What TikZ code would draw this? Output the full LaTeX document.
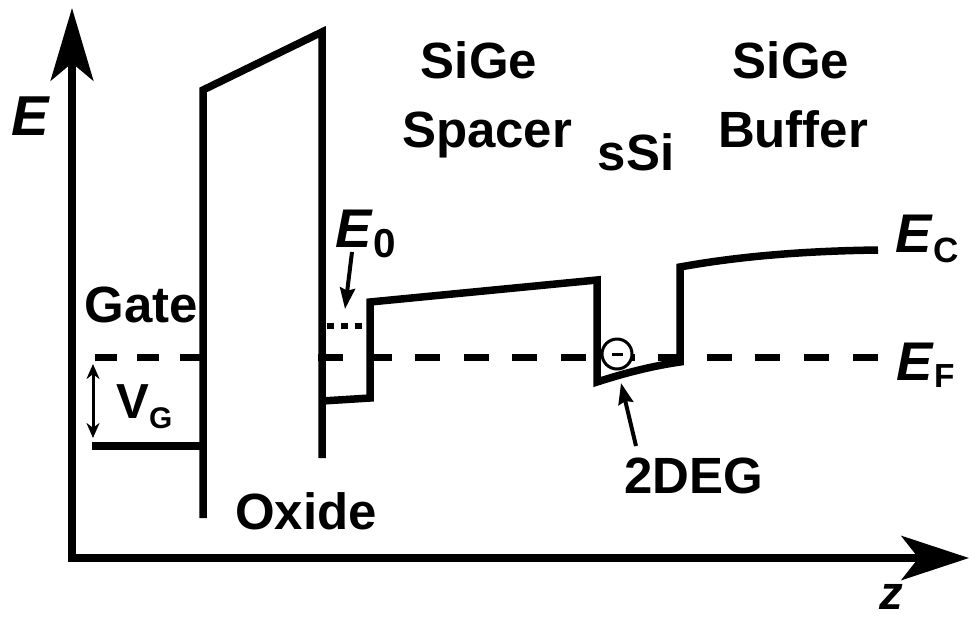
\documentclass[tikz,border=0pt]{standalone}
\usepackage{fontspec}
\setmainfont{Liberation Sans}
\usetikzlibrary{arrows.meta}
\tikzset{
  band/.style={line width=0.15cm},
  axis/.style={line width=0.16cm,{Stealth[length=1.45cm,width=0.85cm,inset=0.35cm]}-{Stealth[length=1.35cm,width=0.88cm,inset=0.34cm]}},
  fermi/.style={line width=0.14cm,dash pattern=on 0.5cm off 0.472cm},
  pointer/.style={line width=0.08cm,-{Stealth[length=0.42cm,width=0.3cm,inset=0.05cm]}},
  lbl/.style={font=\fontsize{29}{34}\selectfont\bfseries,inner sep=0pt,anchor=base},
  elbl/.style={font=\fontsize{31}{36}\selectfont\bfseries,inner sep=0pt,anchor=base west},
}
\begin{document}
\begin{tikzpicture}[x=0.02cm,y=-0.02cm]
  \useasboundingbox (0,0) rectangle (969,619);
  % axes
  \coordinate (etop) at (72,8);
  \coordinate (origin) at (72,558);
  \coordinate (zend) at (969,558);
  \draw[axis] (etop) -- (origin) -- (zend);
  \node[elbl,font=\fontsize{32}{36}\selectfont\bfseries\itshape] (elabel) at (11,135) {E};
  \node[lbl,font=\fontsize{27}{30}\selectfont\bfseries\itshape] (zlabel) at (891,609) {z};
  % band profile
  \draw[band] (92,446) -- (203,446);
  \draw[band] (203,518) -- (203,90) -- (322,32) -- (322,458);
  \draw[band] (322,401) -- (370,398) -- (370,302) -- (597,280) -- (597,382)
    .. controls (625,373) and (652,366) .. (680,362) -- (680,267)
    .. controls (735,257) and (800,251) .. (878,250);
  % Fermi level and E0
  \draw[fermi,dash pattern=on 0.44cm off 0.41cm] (95,357) -- (203,357);
  \draw[fermi] (318,357) -- (878,357);
  \draw[line width=0.11cm,dash pattern=on 0.14cm off 0.14cm] (327,326) -- (370,326);
  % electron
  \node[circle,draw,fill=white,line width=0.06cm,minimum size=0.6cm,inner sep=0pt] (elec) at (617,354)
    {\rule{0.22cm}{0.06cm}};
  % labels
  \node[lbl] (gate) at (141,322) {Gate};
  \node[lbl] (oxide) at (306,529) {Oxide};
  \node[lbl] (sige1) at (479,78) {SiGe};
  \node[lbl] (spacer) at (487,147) {Spacer};
  \node[lbl] (ssi) at (636,170) {sSi};
  \node[lbl] (sige2) at (791,78) {SiGe};
  \node[lbl] (buffer) at (793,147) {Buffer};
  \node[lbl] (deg) at (694,493) {2DEG};
  \node[elbl,font=\fontsize{28}{30}\selectfont\bfseries] (vg) at (116,418)
    {V\raisebox{-5.7pt}{\fontsize{17}{17}\selectfont G}};
  \node[elbl] (ezero) at (335,247)
    {\textit{E}\raisebox{-5.7pt}{\fontsize{23}{23}\selectfont 0}};
  \node[elbl] (ec) at (895,252)
    {\textit{E}\raisebox{-5.7pt}{\fontsize{20}{20}\selectfont C}};
  \node[elbl] (ef) at (896,380)
    {\textit{E}\raisebox{-4.5pt}{\fontsize{19}{19}\selectfont F}};
  % pointers
  \coordinate (vgtop) at (93,364);
  \coordinate (vgbot) at (93,438);
  \draw[pointer,{Stealth[length=0.3cm,width=0.26cm]}-{Stealth[length=0.3cm,width=0.26cm]},line width=0.06cm] (vgtop) -- (vgbot);
  \coordinate (ezerotail) at (352,252);
  \coordinate (ezerotip) at (345,309);
  \draw[pointer] (ezerotail) -- (ezerotip);
  \coordinate (degtail) at (636,446);
  \coordinate (degtip) at (621,383);
  \draw[pointer] (degtail) -- (degtip);
\end{tikzpicture}
\end{document}
